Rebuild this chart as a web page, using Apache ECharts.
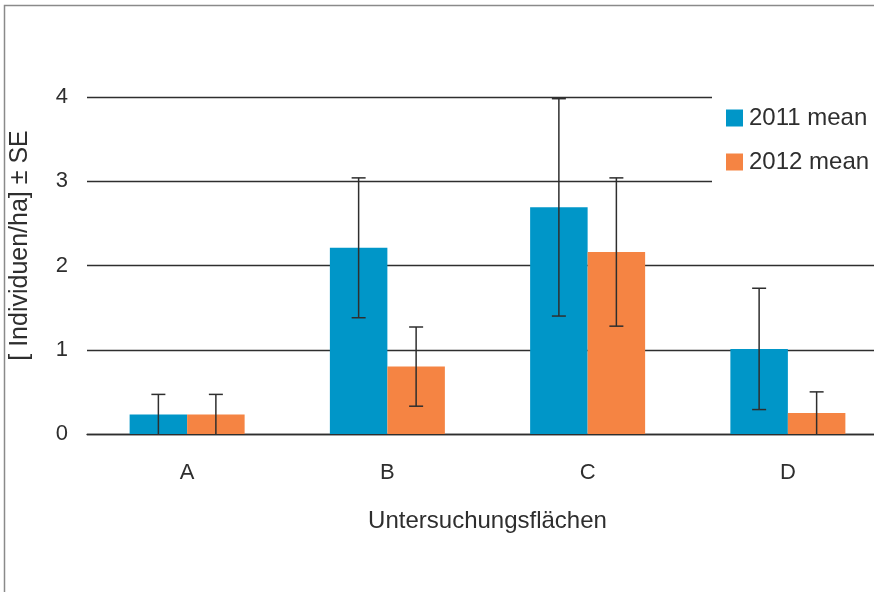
<!DOCTYPE html>
<html>
<head>
<meta charset="utf-8">
<script src="https://cdn.jsdelivr.net/npm/echarts@6/dist/echarts.min.js"></script>
<style>
  html, body { margin: 0; padding: 0; background: #fff; overflow: hidden; }
  #chart { width: 888px; height: 592px; }
</style>
</head>
<body>
<div id="chart"></div>
<script>
// Study plots and mean densities (individuals per ha) with standard errors
const categories = ['A', 'B', 'C', 'D'];
const seriesNames = ['2011 mean', '2012 mean'];
const mean2011 = [0.23, 2.21, 2.69, 1.01];
const se2011 = [0.24, 0.83, 1.29, 0.72];
const mean2012 = [0.23, 0.80, 2.16, 0.25];
const se2012 = [0.24, 0.47, 0.88, 0.25];
const yTicks = [0, 1, 2, 3, 4];

const BLUE = '#0096c8';
const ORANGE = '#f58443';
const INK = '#2e2e2e';
const FONT = '"Liberation Sans", Arial, sans-serif';
const BAR_W = 57.5;
const CAP_W = 14;

function errorData(means, ses) {
  return means.map((m, i) => [i, Math.max(0, m - ses[i]), m + ses[i]]);
}

function errorSeries(means, ses, shift) {
  return {
    type: 'custom',
    z: 5,
    silent: true,
    data: errorData(means, ses),
    renderItem: function (params, api) {
      const top = api.coord([api.value(0), api.value(2)]);
      const bot = api.coord([api.value(0), api.value(1)]);
      const x = top[0] + shift;
      const style = { stroke: INK, lineWidth: 1.5 };
      const parts = [
        { type: 'line', shape: { x1: x, y1: top[1], x2: x, y2: bot[1] }, style: style },
        { type: 'line', shape: { x1: x - CAP_W / 2, y1: top[1], x2: x + CAP_W / 2, y2: top[1] }, style: style }
      ];
      if (api.value(1) > 0) {
        parts.push({ type: 'line', shape: { x1: x - CAP_W / 2, y1: bot[1], x2: x + CAP_W / 2, y2: bot[1] }, style: style });
      }
      return { type: 'group', children: parts };
    }
  };
}

const chart = echarts.init(document.getElementById('chart'), null, { renderer: 'canvas' });

chart.setOption({
  animation: false,
  backgroundColor: '#fff',
  textStyle: { fontFamily: FONT, color: INK },
  graphic: [{
    type: 'polyline',
    z: 100,
    shape: { points: [[4.5, 592], [4.5, 5.5], [888, 5.5]] },
    style: { stroke: '#8a8a8a', lineWidth: 1.5, fill: null }
  }],
  grid: { left: 86, top: 97, width: 802, height: 337 },
  legend: {
    data: seriesNames,
    orient: 'vertical',
    left: 712,
    top: 92,
    padding: [14, 40, 10, 14],
    itemGap: 20,
    itemWidth: 17,
    itemHeight: 17,
    backgroundColor: '#fff',
    z: 10,
    icon: 'rect',
    textStyle: { fontFamily: FONT, fontSize: 24, color: INK, padding: [0, 0, 0, 1] }
  },
  xAxis: {
    type: 'category',
    data: categories,
    axisTick: { show: false },
    axisLine: { show: true, lineStyle: { color: INK, width: 1.3 } },
    axisLabel: { fontFamily: FONT, fontSize: 22, color: INK, margin: 28 },
    name: 'Untersuchungsflächen',
    nameLocation: 'middle',
    nameGap: 75,
    nameTextStyle: { fontFamily: FONT, fontSize: 24, color: INK }
  },
  yAxis: {
    type: 'value',
    min: yTicks[0],
    max: yTicks[yTicks.length - 1],
    interval: 1,
    axisLine: { show: false },
    axisTick: { show: false },
    splitLine: { lineStyle: { color: INK, width: 1.3 } },
    axisLabel: { fontFamily: FONT, fontSize: 22, color: INK, margin: 19 },
    name: '[ Individuen/ha] ± SE',
    nameLocation: 'middle',
    nameGap: 54,
    nameTextStyle: { fontFamily: FONT, fontSize: 25, color: INK, padding: [0, 0, 0, 40] }
  },
  series: [
    {
      name: seriesNames[0],
      type: 'bar',
      data: mean2011,
      barWidth: BAR_W,
      barGap: '0%',
      itemStyle: { color: BLUE }
    },
    {
      name: seriesNames[1],
      type: 'bar',
      data: mean2012,
      barWidth: BAR_W,
      barGap: '0%',
      itemStyle: { color: ORANGE }
    },
    errorSeries(mean2011, se2011, -BAR_W / 2),
    errorSeries(mean2012, se2012, BAR_W / 2)
  ]
});
</script>
</body>
</html>
